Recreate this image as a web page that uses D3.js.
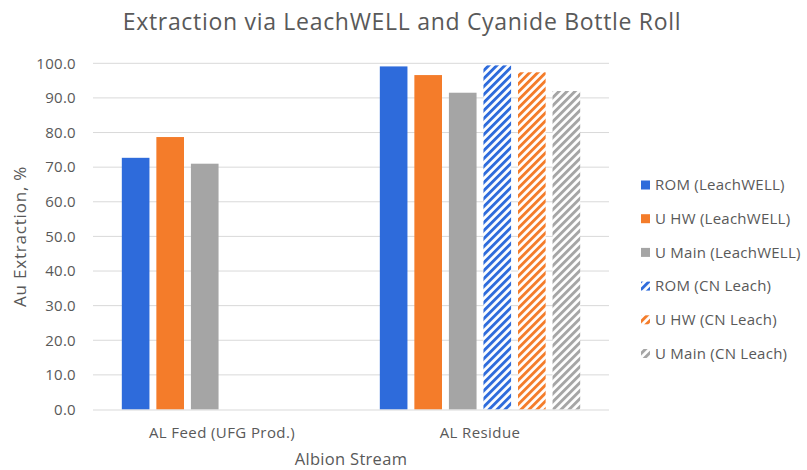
<!DOCTYPE html>
<html><head><meta charset="utf-8">
<script src="https://cdn.jsdelivr.net/npm/d3@7"></script>
<style>body{margin:0;background:#fff}svg{display:block}text{font-family:"Open Sans",sans-serif}</style>
</head><body><svg id="c" width="807" height="470"></svg>
<script>
const categories = ["AL Feed (UFG Prod.)", "AL Residue"];
const seriesNames = ["ROM (LeachWELL)", "U HW (LeachWELL)", "U Main (LeachWELL)", "ROM (CN Leach)", "U HW (CN Leach)", "U Main (CN Leach)"];
const seriesColors = ["#2e6bdb", "#f47c2a", "#a5a5a5", "#2e6bdb", "#f47c2a", "#a5a5a5"];
const seriesHatched = [false, false, false, true, true, true];
const romLW = [72.7, 99.1];
const uhwLW = [78.7, 96.6];
const umainLW = [71.0, 91.5];
const romCN = [null, 99.4];
const uhwCN = [null, 97.4];
const umainCN = [null, 92.0];
const yTicks = [0, 10, 20, 30, 40, 50, 60, 70, 80, 90, 100];
const chartTitle = "Extraction via LeachWELL and Cyanide Bottle Roll";
const yTitle = "Au Extraction, %";
const xTitle = "Albion Stream";

const values = [romLW, uhwLW, umainLW, romCN, uhwCN, umainCN];
const svg = d3.select("#c");
const defs = svg.append("defs");
seriesColors.forEach((c, i) => {
  if (!seriesHatched[i]) return;
  const p = defs.append("pattern").attr("id", "h" + i).attr("patternUnits", "userSpaceOnUse")
    .attr("width", 5.66).attr("height", 5.66).attr("patternTransform", "rotate(45)");
  p.append("rect").attr("width", 5.66).attr("height", 5.66).attr("fill", "#fff");
  p.append("rect").attr("x", 0).attr("width", 2.9).attr("height", 5.66).attr("fill", c);
});

const pL = 93, pR = 609, pT = 63.3, pB = 409.5;
const x0 = d3.scaleBand().domain(categories).range([pL, pR]).paddingInner(0.21).paddingOuter(0.105);
const x1 = d3.scaleBand().domain(d3.range(6)).range([0, x0.bandwidth()]).paddingInner(0.2).paddingOuter(0.05);
const y = d3.scaleLinear().domain([0, 100]).range([pB, pT]);

svg.append("g").selectAll("line").data(yTicks.filter(t => t > 0)).join("line")
  .attr("x1", pL).attr("x2", pR).attr("y1", d => y(d)).attr("y2", d => y(d))
  .attr("stroke", "#d9d9d9").attr("stroke-width", 1);
svg.append("g").selectAll("text").data(yTicks).join("text")
  .attr("x", 76).attr("y", d => y(d)).attr("dy", "0.35em").attr("text-anchor", "end")
  .attr("font-size", 15).attr("letter-spacing", 0.3).attr("fill", "#595959").text(d => d.toFixed(1));

categories.forEach((cat, ci) => {
  values.forEach((arr, si) => {
    const v = arr[ci];
    if (v == null) return;
    svg.append("rect").attr("x", x0(cat) + x1(si)).attr("width", x1.bandwidth())
      .attr("y", y(v)).attr("height", y(0) - y(v))
      .attr("fill", seriesHatched[si] ? `url(#h${si})` : seriesColors[si]);
  });
});

svg.append("line").attr("x1", pL).attr("x2", pR).attr("y1", pB + 0.5).attr("y2", pB + 0.5)
  .attr("stroke", "#d9d9d9").attr("stroke-width", 1);
svg.append("g").selectAll("text").data(categories).join("text")
  .attr("x", d => x0(d) + x0.bandwidth() / 2).attr("y", 433).attr("dy", "0.35em")
  .attr("text-anchor", "middle").attr("font-size", 15).attr("letter-spacing", 0.4).attr("fill", "#595959").text(d => d);

svg.append("text").attr("x", 402).attr("y", 22).attr("dy", "0.35em").attr("text-anchor", "middle")
  .attr("font-size", 23).attr("letter-spacing", 0.7).attr("fill", "#595959").text(chartTitle);
svg.append("text").attr("x", (pL + pR) / 2).attr("y", 459).attr("dy", "0.35em").attr("text-anchor", "middle")
  .attr("font-size", 16.5).attr("letter-spacing", 0.3).attr("fill", "#595959").text(xTitle);
svg.append("text").attr("transform", `translate(20,${(pT + pB) / 2}) rotate(-90)`).attr("dy", "0.35em")
  .attr("text-anchor", "middle").attr("font-size", 17).attr("letter-spacing", 0.8).attr("fill", "#595959").text(yTitle);

const lg = svg.append("g");
seriesNames.forEach((n, i) => {
  const cy = 185 + i * 33.7;
  lg.append("rect").attr("x", 641).attr("y", cy - 4.5).attr("width", 9).attr("height", 9)
    .attr("fill", seriesHatched[i] ? `url(#h${i})` : seriesColors[i]);
  lg.append("text").attr("x", 655).attr("y", cy).attr("dy", "0.35em").attr("font-size", 15)
    .attr("letter-spacing", 0.25).attr("fill", "#595959").text(n);
});
</script></body></html>
